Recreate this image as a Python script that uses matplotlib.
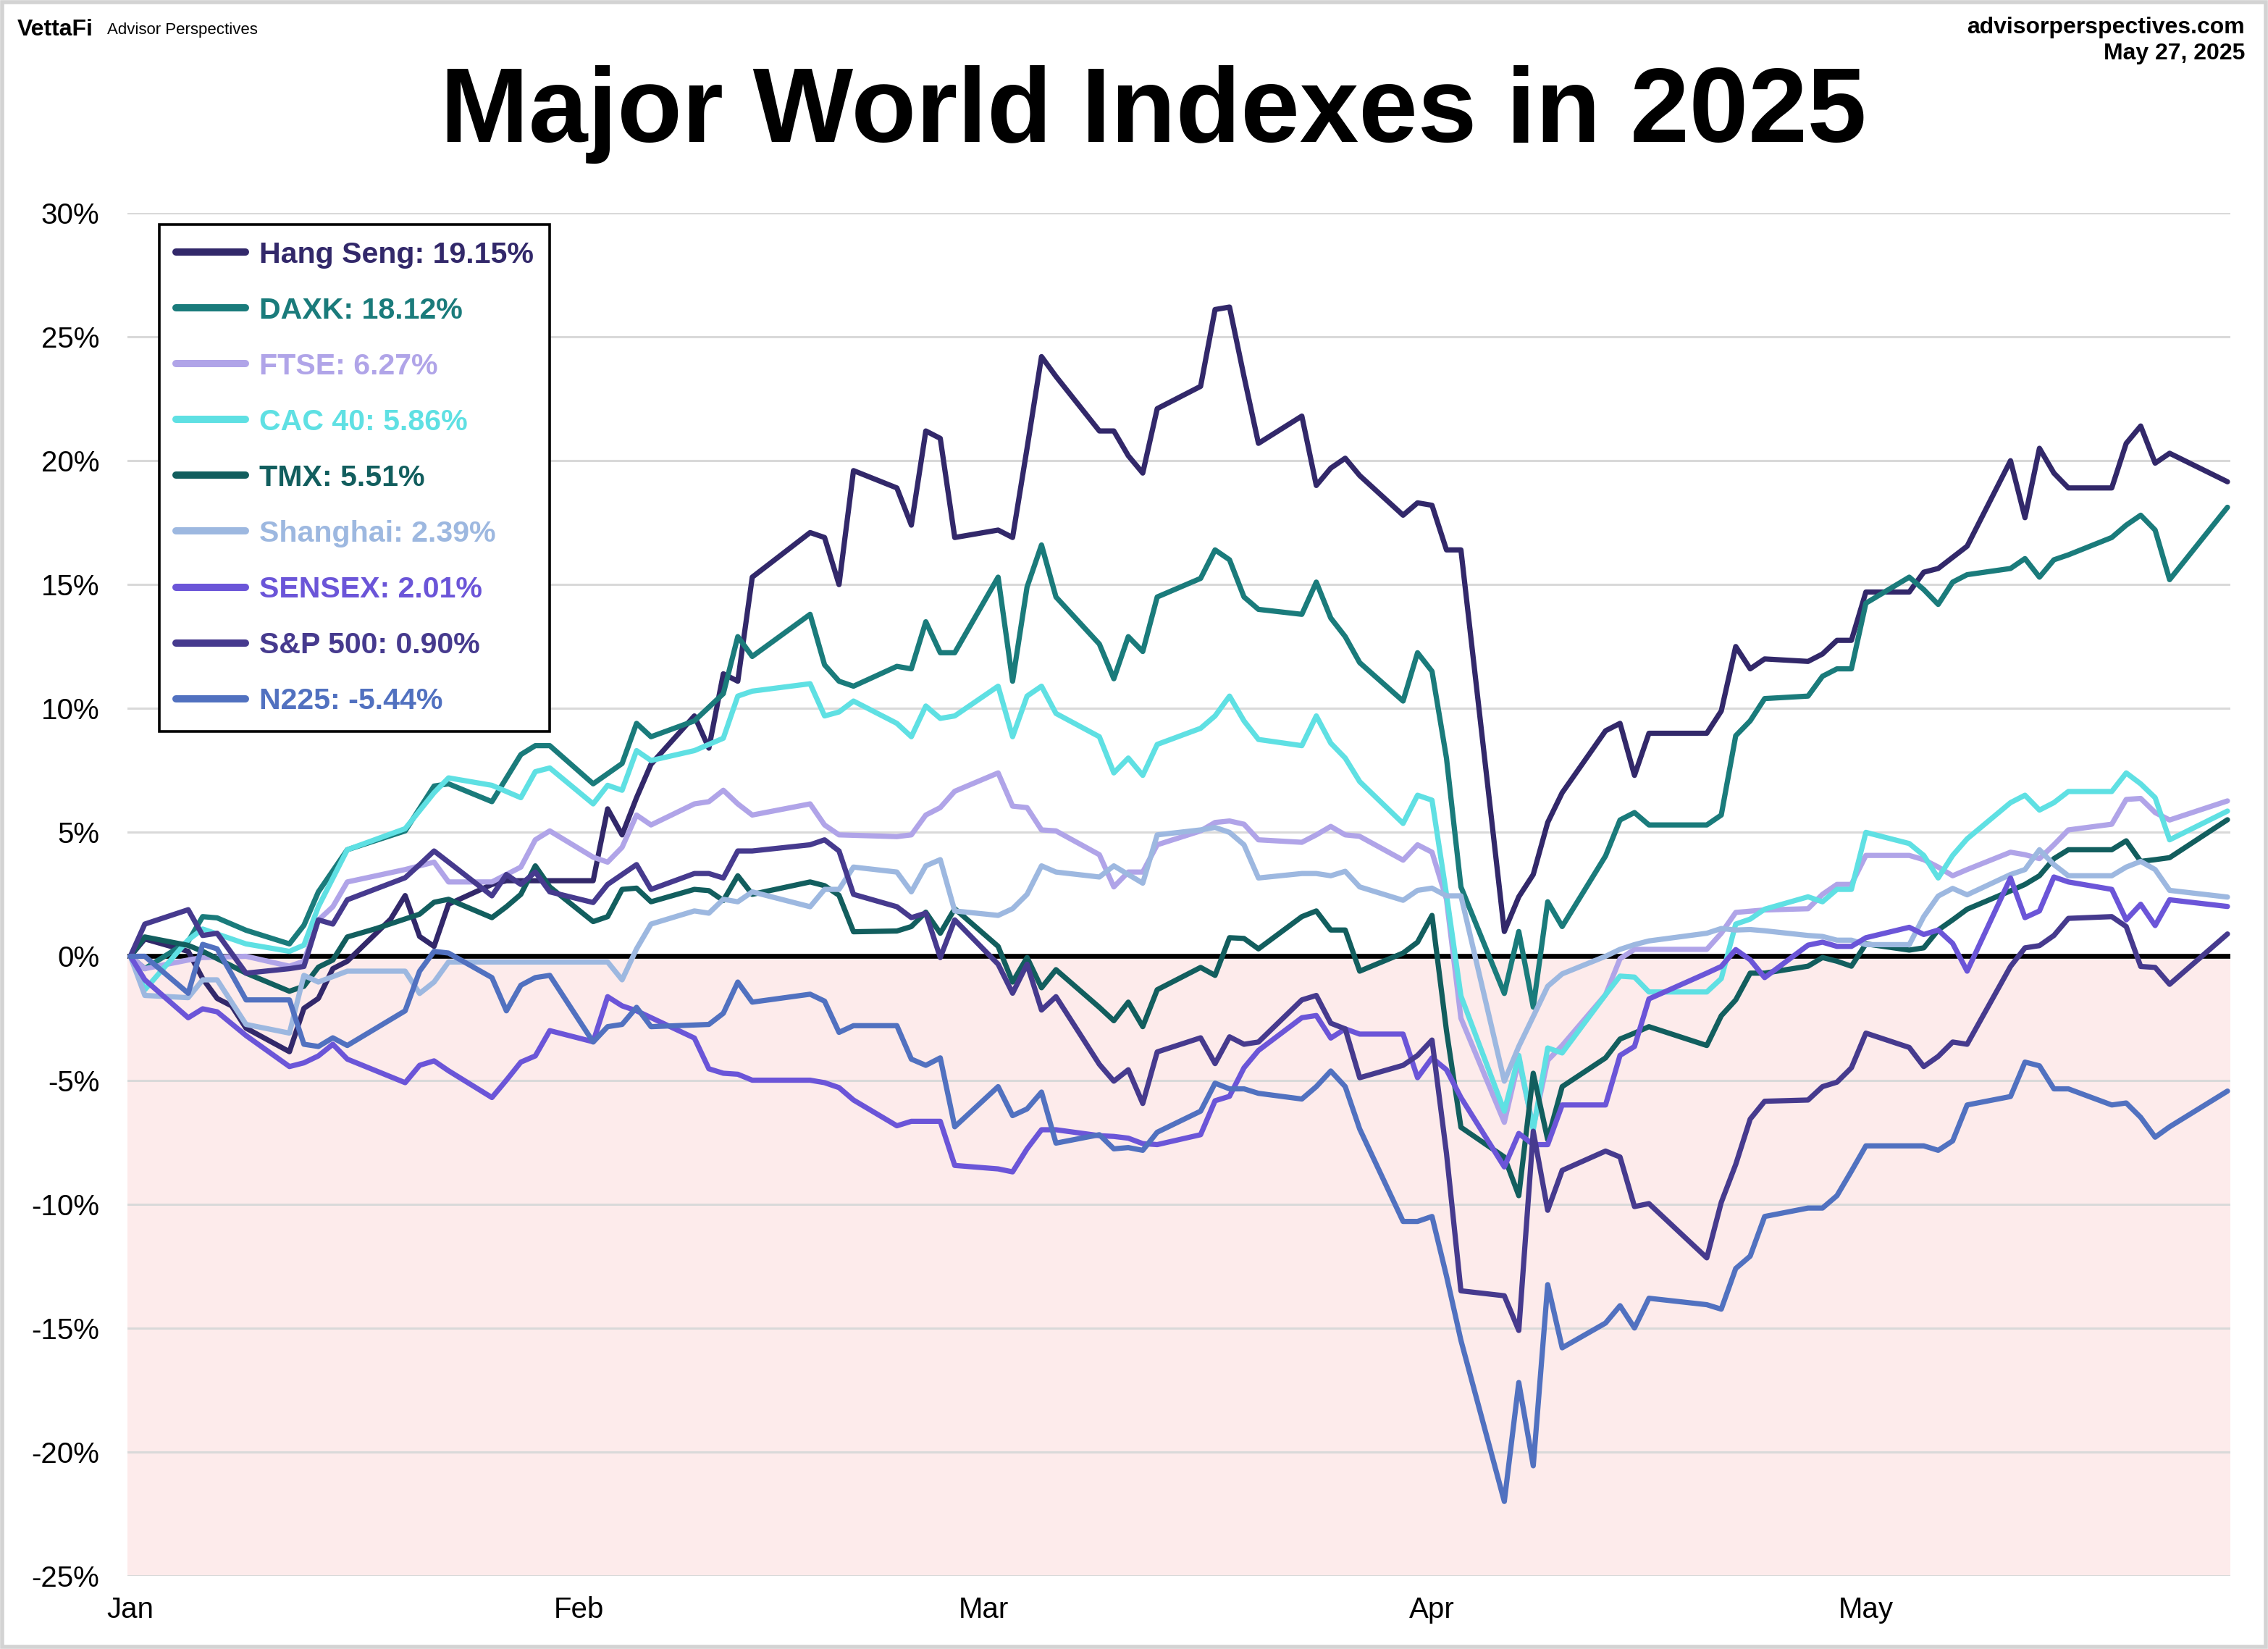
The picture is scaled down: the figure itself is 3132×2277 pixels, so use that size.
import matplotlib
matplotlib.use('Agg')
import matplotlib.pyplot as plt
from matplotlib.patches import Rectangle
from matplotlib.ticker import FuncFormatter

# x = trading days since the start of the year (as placed on the chart)
hang_seng_days = [0, 1, 4, 5, 6, 7, 8, 11, 12, 13, 14, 15, 18, 19, 20, 21, 22, 25, 26, 32, 33, 34, 35, 36,
                  39, 40, 41, 42, 43, 47, 48, 49, 50, 53, 54, 55, 56, 57, 60, 61, 62, 63, 64, 67, 68, 69, 70,
                  71, 74, 75, 76, 77, 78, 81, 82, 83, 84, 85, 88, 89, 90, 91, 92, 95, 96, 97, 98, 99, 102,
                  103, 104, 105, 109, 110, 111, 112, 113, 116, 117, 118, 119, 120, 123, 124, 125, 126, 127,
                  130, 131, 132, 133, 134, 137, 138, 139, 140, 141, 145]
hang_seng_vals = [0, 0.7, 0.2, -0.9, -1.7, -2.0, -2.9, -3.85, -2.1, -1.7, -0.5, -0.2, 1.5, 2.45, 0.8, 0.4,
                  2.1, 2.9, 3.05, 3.05, 5.95, 4.9, 6.4, 7.75, 9.7, 8.4, 11.4, 11.1, 15.3, 17.1, 16.9, 15.0,
                  19.6, 18.9, 17.4, 21.2, 20.9, 16.9, 17.2, 16.9, 20.5, 24.2, 23.4, 21.2, 21.2, 20.2, 19.5,
                  22.1, 23.0, 26.1, 26.2, 23.4, 20.7, 21.8, 19.0, 19.7, 20.1, 19.4, 17.8, 18.3, 18.2, 16.4,
                  16.4, 1.0, 2.4, 3.3, 5.4, 6.6, 9.1, 9.4, 7.3, 9.0, 9.0, 9.9, 12.5, 11.6, 12.0, 11.9, 12.2,
                  12.75, 12.75, 14.7, 14.7, 15.5, 15.65, 16.1, 16.55, 20.0, 17.7, 20.5, 19.5, 18.9, 18.9,
                  20.7, 21.4, 19.9, 20.3, 19.15]

daxk_days = [0, 1, 4, 5, 6, 7, 8, 11, 12, 13, 15, 19, 21, 22, 25, 27, 28, 29, 32, 34, 35, 36, 39, 41, 42,
             43, 47, 48, 49, 50, 53, 54, 55, 56, 57, 60, 61, 62, 63, 64, 67, 68, 69, 70, 71, 74, 75, 76, 77,
             78, 81, 82, 83, 84, 85, 88, 89, 90, 91, 92, 95, 96, 97, 98, 99, 102, 103, 104, 105, 109, 110,
             111, 112, 113, 116, 117, 118, 119, 120, 123, 124, 125, 126, 127, 130, 131, 132, 133, 134,
             137, 138, 139, 140, 141, 145]
daxk_vals = [0, -0.5, 0.6, 1.6, 1.55, 1.3, 1.05, 0.5, 1.25, 2.6, 4.3, 5.06, 6.87, 6.96, 6.24, 8.14, 8.5,
             8.5, 6.96, 7.78, 9.4, 8.86, 9.5, 10.6, 12.9, 12.1, 13.8, 11.76, 11.1, 10.9, 11.7, 11.6, 13.5,
             12.25, 12.25, 15.3, 11.1, 14.9, 16.6, 14.5, 12.6, 11.2, 12.9, 12.3, 14.5, 15.25, 16.4, 16.0,
             14.5, 14.0, 13.8, 15.1, 13.65, 12.9, 11.85, 10.3, 12.25, 11.5, 8.0, 2.8, -1.5, 1.0, -2.05,
             2.2, 1.2, 4.05, 5.5, 5.8, 5.3, 5.3, 5.7, 8.9, 9.5, 10.4, 10.5, 11.3, 11.6, 11.6, 14.25, 15.3,
             14.8, 14.2, 15.1, 15.4, 15.65, 16.05, 15.3, 16.0, 16.2, 16.9, 17.4, 17.8, 17.2, 15.2, 18.12]

ftse_days = [0, 1, 4, 5, 8, 11, 12, 13, 14, 15, 19, 21, 22, 25, 27, 28, 29, 32, 33, 34, 35, 36, 39, 40, 41,
             42, 43, 47, 48, 49, 53, 54, 55, 56, 57, 60, 61, 62, 63, 64, 67, 68, 69, 70, 71, 74, 75, 76, 77,
             78, 81, 82, 83, 84, 85, 88, 89, 90, 91, 92, 95, 96, 97, 98, 99, 102, 103, 104, 105, 109, 110,
             111, 113, 116, 117, 118, 119, 120, 123, 124, 125, 126, 127, 130, 131, 132, 133, 134, 137, 138,
             139, 140, 141, 145]
ftse_vals = [0, -0.5, -0.15, -0.05, 0.0, -0.4, -0.2, 1.46, 2.0, 3.0, 3.5, 3.8, 3.0, 3.0, 3.6, 4.7, 5.06,
             4.0, 3.8, 4.4, 5.7, 5.3, 6.15, 6.24, 6.7, 6.15, 5.7, 6.15, 5.3, 4.9, 4.83, 4.9, 5.7, 6.0, 6.66,
             7.4, 6.06, 6.0, 5.1, 5.06, 4.1, 2.8, 3.4, 3.4, 4.5, 5.06, 5.4, 5.46, 5.33, 4.7, 4.6, 4.9, 5.24,
             4.9, 4.84, 3.88, 4.5, 4.2, 2.3, -2.5, -6.7, -4.2, -6.9, -4.2, -3.6, -1.55, -0.1, 0.28, 0.28,
             0.28, 0.93, 1.77, 1.87, 1.92, 2.5, 2.9, 2.9, 4.07, 4.07, 3.9, 3.6, 3.25, 3.5, 4.2, 4.1, 3.94,
             4.5, 5.1, 5.33, 6.33, 6.37, 5.8, 5.5, 6.27]

cac_days = [0, 1, 4, 5, 6, 8, 11, 12, 13, 15, 19, 21, 22, 25, 27, 28, 29, 32, 33, 34, 35, 36, 39, 41, 42,
            43, 47, 48, 49, 50, 53, 54, 55, 56, 57, 60, 61, 62, 63, 64, 67, 68, 69, 70, 71, 74, 75, 76, 77,
            78, 81, 82, 83, 84, 85, 88, 89, 90, 91, 92, 95, 96, 97, 98, 99, 102, 103, 104, 105, 109, 110,
            111, 112, 113, 116, 117, 118, 119, 120, 123, 124, 125, 126, 127, 130, 131, 132, 133, 134, 137,
            138, 139, 140, 141, 145]
cac_vals = [0, -1.35, 0.66, 1.1, 0.9, 0.5, 0.2, 0.45, 2.0, 4.3, 5.15, 6.6, 7.2, 6.9, 6.4, 7.45, 7.6, 6.15,
            6.9, 6.7, 8.3, 7.9, 8.3, 8.8, 10.5, 10.7, 11.0, 9.7, 9.86, 10.3, 9.4, 8.86, 10.1, 9.6, 9.7,
            10.9, 8.86, 10.5, 10.9, 9.8, 8.86, 7.4, 8.0, 7.3, 8.55, 9.2, 9.7, 10.5, 9.5, 8.75, 8.5, 9.7,
            8.6, 8.0, 7.05, 5.36, 6.5, 6.3, 2.5, -1.6, -6.25, -4.0, -7.0, -3.7, -3.9, -1.55, -0.8, -0.84,
            -1.44, -1.44, -0.9, 1.3, 1.5, 1.9, 2.4, 2.2, 2.7, 2.7, 5.0, 4.55, 4.07, 3.16, 4.07, 4.74, 6.2,
            6.5, 5.9, 6.2, 6.65, 6.65, 7.4, 6.96, 6.4, 4.7, 5.86]

tmx_days = [0, 1, 4, 5, 8, 11, 12, 13, 14, 15, 17, 20, 21, 22, 25, 26, 27, 28, 29, 32, 33, 34, 35, 36, 39,
            40, 41, 42, 43, 47, 48, 49, 50, 53, 54, 55, 56, 57, 60, 61, 62, 63, 64, 67, 68, 69, 70, 71, 74,
            75, 76, 77, 78, 81, 82, 83, 84, 85, 88, 89, 90, 91, 92, 95, 96, 97, 98, 99, 102, 103, 104, 105,
            109, 110, 111, 112, 113, 116, 117, 118, 119, 120, 123, 124, 125, 126, 127, 130, 131, 132, 133,
            134, 137, 138, 139, 140, 141, 145]
tmx_vals = [0, 0.78, 0.44, 0.2, -0.68, -1.41, -1.21, -0.44, -0.15, 0.78, 1.12, 1.7, 2.18, 2.3, 1.56, 2.0,
            2.5, 3.65, 2.8, 1.4, 1.6, 2.7, 2.75, 2.2, 2.7, 2.65, 2.25, 3.25, 2.5, 3.0, 2.85, 2.46, 0.99,
            1.02, 1.2, 1.78, 0.93, 1.92, 0.4, -1.04, -0.05, -1.27, -0.54, -2.06, -2.6, -1.85, -2.84, -1.35,
            -0.45, -0.77, 0.75, 0.72, 0.3, 1.6, 1.83, 1.06, 1.06, -0.6, 0.13, 0.57, 1.65, -3.0, -6.9, -8.1,
            -9.66, -4.72, -7.4, -5.26, -4.1, -3.34, -3.1, -2.84, -3.6, -2.4, -1.76, -0.68, -0.68, -0.4,
            -0.05, -0.2, -0.4, 0.5, 0.25, 0.34, 1.06, 1.47, 1.9, 2.64, 2.9, 3.25, 3.94, 4.3, 4.3, 4.66,
            3.83, 3.9, 3.98, 5.51]

shanghai_days = [0, 1, 4, 5, 6, 8, 11, 12, 13, 15, 19, 20, 21, 22, 33, 34, 35, 36, 39, 40, 41, 42, 43, 47,
                 48, 49, 50, 53, 54, 55, 56, 57, 60, 61, 62, 63, 64, 67, 68, 69, 70, 71, 74, 75, 76, 77, 78,
                 81, 82, 83, 84, 85, 88, 89, 90, 91, 92, 95, 96, 97, 98, 99, 102, 103, 104, 105, 109, 110,
                 111, 112, 113, 116, 117, 118, 119, 120, 123, 124, 125, 126, 127, 130, 131, 132, 133, 134,
                 137, 138, 139, 140, 141, 145]
shanghai_vals = [0, -1.58, -1.67, -0.95, -0.95, -2.75, -3.1, -0.77, -1.04, -0.6, -0.6, -1.5, -1.04, -0.23,
                 -0.23, -0.95, 0.3, 1.3, 1.83, 1.74, 2.3, 2.2, 2.6, 2.0, 2.7, 2.7, 3.6, 3.4, 2.6, 3.65,
                 3.9, 1.83, 1.65, 1.92, 2.5, 3.65, 3.4, 3.2, 3.65, 3.3, 2.95, 4.9, 5.1, 5.2, 5.0, 4.5,
                 3.16, 3.34, 3.34, 3.25, 3.43, 2.8, 2.26, 2.66, 2.75, 2.44, 2.44, -5.04, -3.64, -2.43,
                 -1.21, -0.71, 0.0, 0.28, 0.47, 0.62, 0.93, 1.12, 1.06, 1.08, 1.03, 0.84, 0.8, 0.65, 0.65,
                 0.47, 0.47, 1.6, 2.43, 2.74, 2.48, 3.3, 3.5, 4.3, 3.7, 3.25, 3.25, 3.6, 3.83, 3.5, 2.66,
                 2.39]

sensex_days = [0, 1, 4, 5, 6, 8, 11, 12, 13, 14, 15, 19, 20, 21, 22, 25, 26, 27, 28, 29, 32, 33, 34, 35,
               39, 40, 41, 42, 43, 47, 48, 49, 50, 53, 54, 56, 57, 60, 61, 62, 63, 64, 67, 68, 69, 70, 71,
               74, 75, 76, 77, 78, 81, 82, 83, 84, 85, 88, 89, 90, 91, 92, 95, 96, 97, 98, 99, 102, 103,
               104, 105, 109, 110, 111, 112, 113, 116, 117, 118, 119, 120, 123, 124, 125, 126, 127, 130,
               131, 132, 133, 134, 137, 138, 139, 140, 141, 145]
sensex_vals = [0, -0.95, -2.48, -2.12, -2.24, -3.2, -4.45, -4.3, -4.02, -3.55, -4.15, -5.1, -4.4, -4.22,
               -4.62, -5.7, -5.0, -4.27, -4.02, -3.0, -3.45, -1.63, -2.0, -2.2, -3.3, -4.54, -4.72, -4.76,
               -5.0, -5.0, -5.1, -5.3, -5.8, -6.84, -6.66, -6.66, -8.44, -8.58, -8.7, -7.77, -7.0, -7.0,
               -7.24, -7.27, -7.34, -7.56, -7.6, -7.2, -5.83, -5.65, -4.5, -3.8, -2.48, -2.39, -3.3, -2.93,
               -3.14, -3.14, -4.9, -4.1, -4.58, -5.7, -8.5, -7.15, -7.6, -7.6, -6.0, -6.0, -4.0, -3.64,
               -1.72, -0.68, -0.41, 0.27, -0.14, -0.86, 0.45, 0.57, 0.4, 0.4, 0.75, 1.17, 0.88, 1.06, 0.52,
               -0.6, 3.16, 1.56, 1.83, 3.2, 3.0, 2.7, 1.47, 2.1, 1.24, 2.28, 2.01]

sp500_days = [0, 1, 4, 5, 6, 8, 11, 12, 13, 14, 15, 19, 20, 21, 22, 25, 26, 27, 28, 29, 32, 33, 34, 35, 36,
              39, 40, 41, 42, 43, 47, 48, 49, 50, 53, 54, 55, 56, 57, 60, 61, 62, 63, 64, 67, 68, 69, 70,
              71, 74, 75, 76, 77, 78, 81, 82, 83, 84, 85, 88, 89, 90, 91, 92, 95, 96, 97, 98, 99, 102, 103,
              104, 105, 109, 110, 111, 112, 113, 116, 117, 118, 119, 120, 123, 124, 125, 126, 127, 130,
              131, 132, 133, 134, 137, 138, 139, 140, 141, 145]
sp500_vals = [0, 1.3, 1.88, 0.84, 0.93, -0.68, -0.5, -0.41, 1.47, 1.3, 2.28, 3.17, 3.7, 4.25, 3.8, 2.44,
              3.3, 2.9, 3.4, 2.6, 2.17, 2.9, 3.3, 3.7, 2.7, 3.34, 3.34, 3.16, 4.25, 4.25, 4.5, 4.7, 4.25,
              2.5, 2.0, 1.56, 1.74, -0.05, 1.47, -0.32, -1.49, -0.32, -2.17, -1.63, -4.36, -5.04, -4.58,
              -5.94, -3.86, -3.29, -4.33, -3.25, -3.55, -3.46, -1.76, -1.58, -2.7, -2.93, -4.9, -4.4, -4.0,
              -3.38, -7.95, -13.5, -13.7, -15.1, -7.06, -10.25, -8.64, -7.86, -8.1, -10.1, -9.98, -12.17,
              -9.93, -8.4, -6.57, -5.85, -5.8, -5.26, -5.08, -4.5, -3.1, -3.68, -4.45, -4.04, -3.46, -3.55,
              -0.41, 0.34, 0.43, 0.84, 1.53, 1.6, 1.2, -0.41, -0.45, -1.13, 0.9]

n225_days = [0, 1, 4, 5, 6, 7, 8, 11, 12, 13, 14, 15, 19, 20, 21, 22, 25, 26, 27, 28, 29, 32, 33, 34, 35,
             36, 40, 41, 42, 43, 47, 48, 49, 50, 53, 54, 55, 56, 57, 60, 61, 62, 63, 64, 67, 68, 69, 70,
             71, 74, 75, 76, 77, 78, 81, 82, 83, 84, 85, 88, 89, 90, 91, 92, 95, 96, 97, 98, 99, 102, 103,
             104, 105, 109, 110, 111, 112, 113, 116, 117, 118, 119, 120, 124, 125, 126, 127, 130, 131, 132,
             133, 134, 137, 138, 139, 140, 141, 145]
n225_vals = [0, 0, -1.49, 0.48, 0.3, -0.72, -1.76, -1.76, -3.55, -3.64, -3.29, -3.6, -2.2, -0.6, 0.2, 0.13,
             -0.86, -2.2, -1.17, -0.86, -0.77, -3.46, -2.84, -2.75, -2.06, -2.84, -2.75, -2.3, -1.04, -1.85,
             -1.53, -1.81, -3.07, -2.8, -2.8, -4.15, -4.4, -4.1, -6.88, -5.26, -6.43, -6.16, -5.48, -7.54,
             -7.2, -7.77, -7.72, -7.83, -7.1, -6.25, -5.12, -5.35, -5.35, -5.53, -5.76, -5.26, -4.63, -5.26,
             -6.97, -10.7, -10.7, -10.5, -12.9, -15.5, -22.0, -17.2, -20.56, -13.25, -15.8, -14.8, -14.1,
             -15.0, -13.8, -14.06, -14.24, -12.6, -12.1, -10.5, -10.16, -10.16, -9.66, -8.67, -7.65, -7.65,
             -7.83, -7.45, -6.0, -5.66, -4.27, -4.42, -5.35, -5.35, -6.0, -5.92, -6.5, -7.3, -6.88, -5.44]

labels = ['Hang Seng: 19.15%', 'DAXK: 18.12%', 'FTSE: 6.27%', 'CAC 40: 5.86%', 'TMX: 5.51%',
          'Shanghai: 2.39%', 'SENSEX: 2.01%', 'S&P 500: 0.90%', 'N225: -5.44%']
colors = ['#32286a', '#1a7b7b', '#b0a4e8', '#5fe0e3', '#125e5e', '#9db8e0', '#6b55d8', '#463a8e', '#5171c0']

month_ticks = [0, 31, 59, 90, 120]
month_labels = ['Jan', 'Feb', 'Mar', 'Apr', 'May']

plt.rcParams['font.family'] = ['Liberation Sans', 'DejaVu Sans']

fig = plt.figure(figsize=(15.66, 11.385), dpi=200)
ax = fig.add_axes([0.0562, 0.0444, 0.9272, 0.8265])

ax.axhspan(-25, 0, color='#fdebeb', zorder=0, lw=0)
for y in range(-25, 31, 5):
    if y != 0:
        ax.axhline(y, color='#d9d9d9', lw=1.1, zorder=1)
ax.axhline(0, color='black', lw=2.4, zorder=2)

series = [(hang_seng_days, hang_seng_vals), (daxk_days, daxk_vals), (ftse_days, ftse_vals),
          (cac_days, cac_vals), (tmx_days, tmx_vals), (shanghai_days, shanghai_vals),
          (sensex_days, sensex_vals), (sp500_days, sp500_vals), (n225_days, n225_vals)]
for (d, v), lab, c in zip(series, labels, colors):
    ax.plot(d, v, color=c, lw=2.6, label=lab, zorder=3, solid_joinstyle='round', solid_capstyle='round')

ax.set_xlim(-0.2, 145.2)
ax.set_ylim(-25, 30)
ax.set_yticks(range(-25, 31, 5))
ax.yaxis.set_major_formatter(FuncFormatter(lambda v, p: f'{v:.0f}%'))
ax.set_xticks(month_ticks)
ax.set_xticklabels(month_labels)
ax.tick_params(axis='both', length=0, labelsize=14.5)
ax.tick_params(axis='y', pad=14)
ax.tick_params(axis='x', pad=10)
for s in ax.spines.values():
    s.set_visible(False)

leg = ax.legend(loc='upper left', bbox_to_anchor=(0.0152, 0.9915), borderaxespad=0,
                prop={'weight': 'bold', 'size': 14.8}, labelcolor='linecolor',
                frameon=True, fancybox=False, edgecolor='black', framealpha=1,
                handlelength=2.35, handletextpad=0.45, labelspacing=0.95, borderpad=0.55)
leg.get_frame().set_linewidth(1.3)
for h in leg.get_lines():
    h.set_linewidth(3.6)
    h.set_solid_capstyle('round')

# header texts
fig.text(0.5086, 1 - 196 / 2277, 'Major World Indexes in 2025', ha='center', va='baseline',
         fontsize=52.8, fontweight='bold')
fig.text(24 / 3132, 1 - 41 / 2277, 'VettaFi', ha='left', va='center', fontsize=11.5, fontweight='bold')
fig.text(148 / 3132, 1 - 42 / 2277, 'Advisor Perspectives', ha='left', va='center', fontsize=8)
fig.text(3100 / 3132, 1 - 38 / 2277, 'advisorperspectives.com', ha='right', va='center',
         fontsize=11.5, fontweight='bold')
fig.text(3100 / 3132, 1 - 74 / 2277, 'May 27, 2025', ha='right', va='center',
         fontsize=11.5, fontweight='bold')

fig.patches.append(Rectangle((0.0008, 0.0012), 0.9984, 0.9976, transform=fig.transFigure,
                             fill=False, edgecolor='#d3d3d3', lw=2.0))

plt.savefig('out.png', dpi=200)
